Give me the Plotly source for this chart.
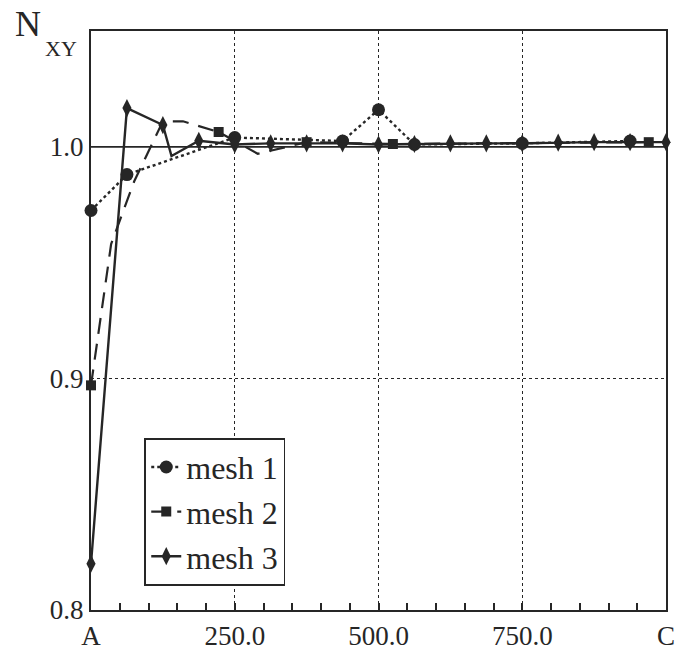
import plotly.graph_objects as go

# ---- data -------------------------------------------------------------
mesh1_x = [0, 62.5, 250, 437.5, 500, 562.5, 750, 937.5]
mesh1_y = [0.9725, 0.988, 1.004, 1.0025, 1.016, 1.001, 1.0015, 1.0025]

# mesh 2 polyline and the nodes that carry a marker
mesh2_x = [0, 35, 75, 125, 160, 222, 290, 375, 525, 970]
mesh2_y = [0.897, 0.958, 0.985, 1.011, 1.011, 1.0064, 0.997, 1.002, 1.0012, 1.002]
mesh2_node = [True, False, False, False, False, True, False, True, True, True]

mesh3_x = [0, 62.5, 125, 140, 187.5, 250, 312.5, 375, 437.5, 500, 562.5,
           625, 687.5, 750, 812.5, 875, 937.5, 1000]
mesh3_y = [0.820, 1.0167, 1.0094, 0.996, 1.0026, 1.001, 1.0015, 1.0015, 1.0015,
           1.001, 1.0012, 1.0015, 1.0015, 1.0015, 1.0018, 1.002, 1.002, 1.002]
mesh3_node = [True, True, True, False] + [True] * 14

x_ticks = [0, 250, 500, 750, 1000]
x_tick_text = ["A", "250.0", "500.0", "750.0", "C"]
y_ticks = [0.8, 0.9, 1.0]
y_tick_text = ["0.8", "0.9", "1.0"]

# ---- styling ----------------------------------------------------------
INK = "#262626"
SERIF = "Liberation Serif"
W, H = 687, 663
M_L, M_R, M_T, M_B = 91, 15, 31, 50


def px_to_paper(px, py):
    """Convert a page pixel position to paper coordinates."""
    return ((px - M_L) / (W - M_L - M_R), (H - M_B - py) / (H - M_T - M_B))


def pick(values, mask):
    return [v for v, m in zip(values, mask) if m]


series = [
    dict(name="mesh 1", x=mesh1_x, y=mesh1_y, node=[True] * len(mesh1_x),
         dash="dot", width=2.4, symbol="circle", size=13),
    dict(name="mesh 2", x=mesh2_x, y=mesh2_y, node=mesh2_node,
         dash="16px,10px", width=2.2, symbol="square", size=10),
    dict(name="mesh 3", x=mesh3_x, y=mesh3_y, node=mesh3_node,
         dash="solid", width=2.4, symbol="diamond-tall", size=13),
]

fig = go.Figure()

# unity reference line
fig.add_hline(y=1.0, line=dict(color=INK, width=1.8), layer="below")

for s in series:
    line = dict(color=INK, width=s["width"], dash=s["dash"])
    marker = dict(symbol=s["symbol"], size=s["size"], color=INK, opacity=1,
                  line=dict(width=0))
    # polyline through every vertex
    fig.add_trace(go.Scatter(x=s["x"], y=s["y"], mode="lines", line=line,
                             legendgroup=s["name"], showlegend=False,
                             cliponaxis=False, hoverinfo="skip"))
    # node markers
    fig.add_trace(go.Scatter(x=pick(s["x"], s["node"]), y=pick(s["y"], s["node"]),
                             mode="markers", marker=marker, name=s["name"],
                             legendgroup=s["name"], showlegend=False,
                             cliponaxis=False))
    # legend key
    fig.add_trace(go.Scatter(x=[None], y=[None], mode="lines+markers",
                             name=s["name"], legendgroup=s["name"],
                             line=line, marker=marker))

lx, ly = px_to_paper(145, 440)
n_x, n_y = px_to_paper(12, 2)
s_x, s_y = px_to_paper(42, 34)

fig.update_layout(
    width=W, height=H,
    margin=dict(l=M_L, r=M_R, t=M_T, b=M_B),
    paper_bgcolor="white", plot_bgcolor="white",
    font=dict(family=SERIF, color=INK, size=26),
    showlegend=True,
    legend=dict(
        x=lx, y=ly, xanchor="left", yanchor="top",
        bgcolor="white", bordercolor=INK, borderwidth=1.8,
        font=dict(family=SERIF, size=32, color=INK),
        itemwidth=30, tracegroupgap=0,
    ),
    annotations=[
        dict(x=n_x, y=n_y, xref="paper", yref="paper",
             xanchor="left", yanchor="top", text="N", showarrow=False,
             font=dict(family=SERIF, size=36, color=INK)),
        dict(x=s_x, y=s_y, xref="paper", yref="paper",
             xanchor="left", yanchor="top", text="XY", showarrow=False,
             font=dict(family=SERIF, size=22, color=INK)),
    ],
)

fig.update_xaxes(
    range=[0, 1000], tickvals=x_ticks, ticktext=x_tick_text,
    showline=True, linecolor=INK, linewidth=2.2, mirror=True,
    ticks="inside", ticklen=7, tickcolor=INK, tickwidth=1.5,
    minor=dict(dtick=50, ticks="inside", ticklen=7, tickcolor=INK, tickwidth=1.5, showgrid=False),
    showgrid=True, gridcolor=INK, gridwidth=1, griddash="dot",
    zeroline=False, tickfont=dict(family=SERIF, size=27, color=INK),
)
fig.update_yaxes(
    range=[0.8, 1.05], tickvals=y_ticks, ticktext=y_tick_text,
    showline=True, linecolor=INK, linewidth=2.2, mirror=True,
    ticks="", showgrid=True, gridcolor=INK, gridwidth=1, griddash="dot",
    zeroline=False, tickfont=dict(family=SERIF, size=27, color=INK),
)

fig.write_html("out.html")
